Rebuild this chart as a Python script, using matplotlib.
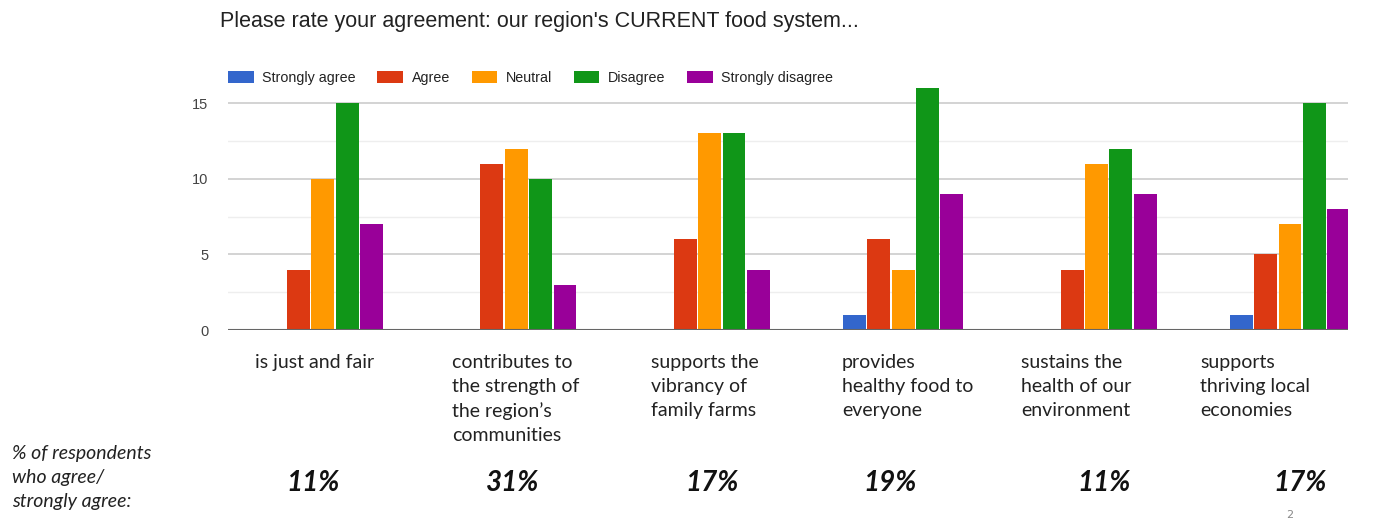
import matplotlib.pyplot as plt
import numpy as np

categorie = ["is just and fair",
             "contributes to\nthe strength of\nthe region\u2019s\ncommunities",
             "supports the\nvibrancy of\nfamily farms",
             "provides\nhealthy food to\neveryone",
             "sustains the\nhealth of our\nenvironment",
             "supports\nthriving local\neconomies"]
risposte = ["Strongly agree", "Agree", "Neutral", "Disagree", "Strongly disagree"]
colori = ["#3366cc", "#dc3912", "#ff9900", "#109618", "#990099"]

strongly_agree = [0, 0, 0, 1, 0, 1]
agree = [4, 11, 6, 6, 4, 5]
neutral = [10, 12, 13, 4, 11, 7]
disagree = [15, 10, 13, 16, 12, 15]
strongly_disagree = [7, 3, 4, 9, 9, 8]
percentuali = ["11%", "31%", "17%", "19%", "11%", "17%"]

valori = [strongly_agree, agree, neutral, disagree, strongly_disagree]

fig = plt.figure(figsize=(13.74, 5.2), dpi=100)
ax = fig.add_axes([228/1374, 190/520, (1348-228)/1374, 245/520])

x = np.arange(len(categorie))
w = 0.126
for i, serie in enumerate(valori):
    ax.bar(x + (i - 2) * w, serie, width=w * 0.94, color=colori[i],
           label=risposte[i], zorder=3)

ax.set_xlim(-0.49, 5.30)
ax.set_ylim(0, 16.2)
ax.set_yticks([0, 5, 10, 15])
ax.set_yticks([2.5, 7.5, 12.5], minor=True)
ax.grid(axis='y', which='major', color='#cccccc', lw=1.2, zorder=0)
ax.grid(axis='y', which='minor', color='#eeeeee', lw=1.0, zorder=0)
ax.axhline(0, color='#666666', lw=1.5, zorder=4)
ax.set_xticks([])
for s in ax.spines.values():
    s.set_visible(False)
ax.tick_params(axis='y', which='both', length=0, pad=14, labelsize=10.5,
               labelcolor='#444444')
for t in ax.get_yticklabels():
    t.set_fontfamily('Liberation Sans')

leg = ax.legend(loc='lower left', bbox_to_anchor=(0.0, 1.0), ncol=5,
                frameon=False, handlelength=1.8, handleheight=0.9,
                columnspacing=1.5, handletextpad=0.6, borderaxespad=0.0,
                borderpad=0.0,
                prop={'family': 'Liberation Sans', 'size': 10.3})
for t in leg.get_texts():
    t.set_color('#222222')

fig.text(220/1374, 1 - 22/520, "Please rate your agreement: our region's CURRENT food system...",
         fontsize=15.5, family='Liberation Sans', color='#222222', va='center')

# etichette delle categorie (testo sovrapposto sotto il grafico)
pos_etichette = [255, 452, 651, 842, 1021, 1200]
for px, testo in zip(pos_etichette, categorie):
    fig.text(px/1374, 1 - 354/520, testo, fontsize=14, family='Lato',
             color='#222222', va='top', linespacing=1.5)

pos_perc = [313, 513, 712, 890, 1104, 1300]
for px, p in zip(pos_perc, percentuali):
    fig.text(px/1374, 1 - 483/520, p, fontsize=20, family='Lato',
             weight='bold', style='italic', ha='center', va='center', color='#111111')

fig.text(12/1374, 1 - 445/520, "% of respondents\nwho agree/\nstrongly agree:",
         fontsize=14, family='Lato', style='italic', va='top', linespacing=1.5,
         color='#222222')

fig.text(1290/1374, 1 - 515/520, "2", fontsize=8, color='#888888',
         ha='center', va='center')

plt.savefig('out.png', dpi=100)
